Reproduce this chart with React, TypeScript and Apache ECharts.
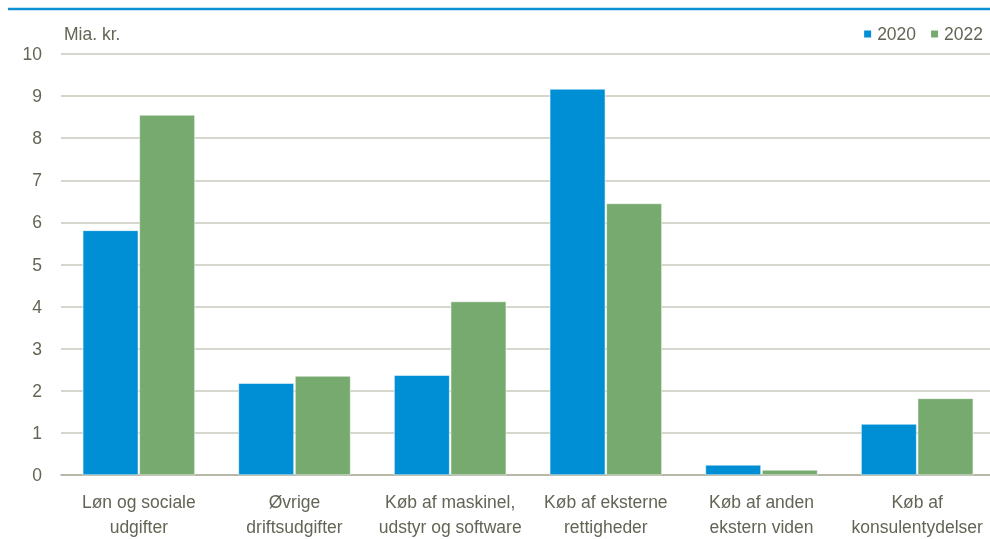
import React, { useEffect, useRef } from "react";
import * as echarts from "echarts";

const categories = [
  "Løn og sociale\nudgifter",
  "Øvrige\ndriftsudgifter",
  "Køb af maskinel,\nudstyr og software",
  "Køb af eksterne\nrettigheder",
  "Køb af anden\nekstern viden",
  "Køb af\nkonsulentydelser",
];
const values2020 = [5.81, 2.18, 2.37, 9.17, 0.24, 1.21];
const values2022 = [8.55, 2.35, 4.12, 6.45, 0.12, 1.82];
const seriesNames = ["2020", "2022"];
const yTitle = "Mia. kr.";

export default function App() {
  const ref = useRef<HTMLDivElement>(null);
  useEffect(() => {
    if (!ref.current) return;
    const chart = echarts.init(ref.current, undefined, { renderer: "svg" });
    const textColor = "#646456";
    const font = "'Liberation Sans', Arial, sans-serif";
    chart.setOption({
      animation: false,
      textStyle: { fontFamily: font },
      graphic: [
        {
          type: "line",
          shape: { x1: 8, y1: 9, x2: 990, y2: 9 },
          style: { stroke: "#0a8fd0", lineWidth: 2.5 },
        },
        {
          type: "text",
          left: 64,
          top: 25,
          style: { text: yTitle, fill: textColor, font: `17.5px ${font}` },
        },
      ],
      legend: {
        right: 8,
        top: 20,
        itemWidth: 9,
        itemHeight: 9,
        itemGap: 13,
        icon: "rect",
        textStyle: { color: textColor, fontSize: 17.5, fontFamily: font },
        data: seriesNames,
      },
      grid: { left: 61, right: 1, top: 54, bottom: 63, containLabel: false },
      xAxis: {
        type: "category",
        data: categories,
        axisTick: { show: false },
        axisLine: { lineStyle: { color: "#aeae9e", width: 1.5 } },
        axisLabel: {
          color: textColor,
          fontSize: 17.5,
          lineHeight: 25,
          margin: 14,
          interval: 0,
          fontFamily: font,
        },
      },
      yAxis: {
        type: "value",
        min: 0,
        max: 10,
        interval: 1,
        axisLine: { show: false },
        axisTick: { show: false },
        axisLabel: { color: textColor, fontSize: 17.5, margin: 19, fontFamily: font },
        splitLine: { lineStyle: { color: "#c9c9bd", width: 1.5 } },
      },
      series: [
        {
          name: seriesNames[0],
          type: "bar",
          data: values2020,
          barGap: "2%",
          barCategoryGap: "28%",
          itemStyle: { color: "#008fd5", borderColor: "#ffffff", borderWidth: 0.5 },
        },
        {
          name: seriesNames[1],
          type: "bar",
          data: values2022,
          itemStyle: { color: "#77aa6f", borderColor: "#ffffff", borderWidth: 0.5 },
        },
      ],
    });
    return () => chart.dispose();
  }, []);
  return (
    <div
      style={{
        position: "fixed",
        left: 0,
        top: 0,
        width: 990,
        height: 539,
        overflow: "hidden",
      }}
    >
      <div ref={ref} style={{ width: 996, height: 539 }} />
    </div>
  );
}
